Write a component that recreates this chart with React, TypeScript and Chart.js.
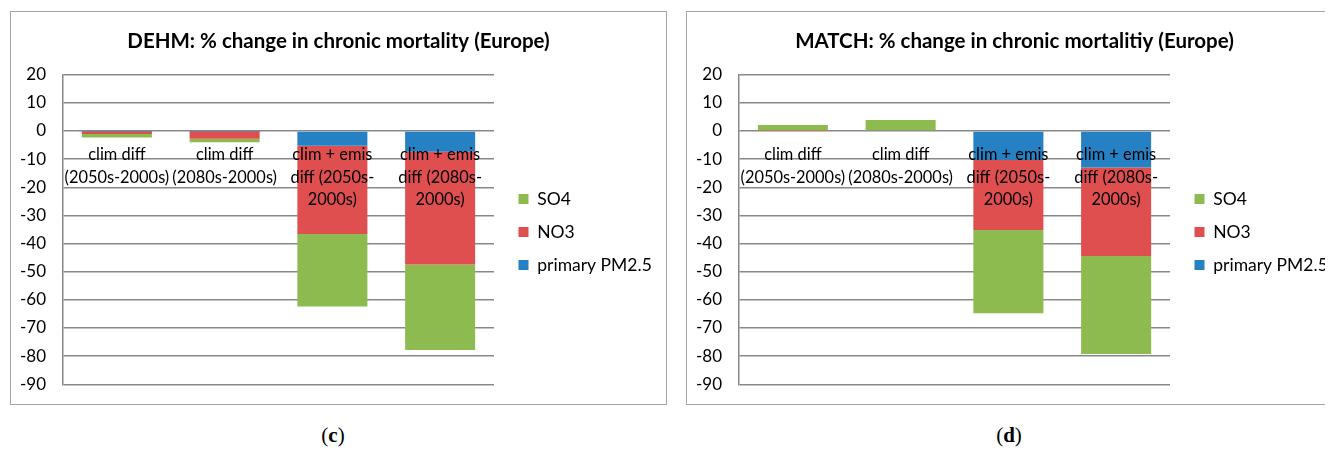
import React, { useEffect, useRef } from "react";
import { Chart, registerables } from "chart.js";

Chart.register(...registerables);

const categories: string[][] = [
  ["clim diff", "(2050s-2000s)"],
  ["clim diff", "(2080s-2000s)"],
  ["clim + emis", "diff (2050s-", "2000s)"],
  ["clim + emis", "diff (2080s-", "2000s)"],
];

const seriesNames = ["primary PM2.5", "NO3", "SO4"];

const yMin = -90;
const yMax = 20;
const yStep = 10;

const dehmTitle = "DEHM: % change in chronic mortality (Europe)";
const dehmPrimary = [-0.1, -0.1, -5.2, -7.4];
const dehmNO3 = [-1.0, -2.7, -31.4, -40.0];
const dehmSO4 = [-1.2, -1.2, -25.8, -30.4];

const matchTitle = "MATCH: % change in chronic mortalitiy (Europe)";
const matchPrimary = [0, 0, -10.3, -13.0];
const matchNO3 = [0.1, 0.3, -24.9, -31.4];
const matchSO4 = [2.0, 3.6, -29.6, -34.8];

const BLUE = "#2680c4";
const RED = "#df4f4f";
const GREEN = "#8dbb50";
const FONT = "Lato";

const CANVAS_W = 655;
const CANVAS_H = 392;
const LEGEND_FONT = 17.5;
const LEGEND_PAD = 15.5;
const LEGEND_BOX = 10;
const PLOT_RIGHT = 483;
const LEGEND_LEFT = 492;

type PanelProps = {
  title: string;
  primary: number[];
  no3: number[];
  so4: number[];
};

function Panel({ title, primary, no3, so4 }: PanelProps) {
  const ref = useRef<HTMLCanvasElement>(null);
  useEffect(() => {
    const canvas = ref.current as HTMLCanvasElement;
    const mctx = document.createElement("canvas").getContext("2d") as CanvasRenderingContext2D;
    mctx.font = `normal ${LEGEND_FONT}px ${FONT}`;
    const maxText = Math.max(...seriesNames.map((n) => mctx.measureText(n).width));
    const legendW = LEGEND_PAD + LEGEND_BOX + LEGEND_FONT / 2 + maxText + 10;
    const outerW = Math.max(0, CANVAS_W - LEGEND_LEFT - legendW);

    const chart = new Chart(canvas, {
      type: "bar",
      data: {
        labels: categories,
        datasets: [
          { label: seriesNames[0], data: primary, backgroundColor: BLUE, borderWidth: 0 },
          { label: seriesNames[1], data: no3, backgroundColor: RED, borderWidth: 0 },
          { label: seriesNames[2], data: so4, backgroundColor: GREEN, borderWidth: 0 },
        ],
      },
      options: {
        responsive: false,
        animation: false,
        layout: { padding: { top: 0, left: 0, right: 0, bottom: 19.7 } },
        datasets: { bar: { categoryPercentage: 1, barPercentage: 0.65 } },
        plugins: {
          title: {
            display: true,
            text: title,
            color: "#000",
            font: { family: FONT, size: 20.5, weight: "bold", lineHeight: 1.2 },
            padding: { top: 17.4, bottom: 20.7 },
          },
          legend: {
            position: "right",
            reverse: true,
            fullSize: false,
            align: "center",
            maxWidth: 400,
            title: {
              display: true,
              text: "",
              font: { size: 1, lineHeight: 1 },
              padding: { top: 4, bottom: 0 },
            },
            labels: {
              boxWidth: LEGEND_BOX,
              boxHeight: LEGEND_BOX,
              padding: LEGEND_PAD,
              color: "#000",
              font: { family: FONT, size: LEGEND_FONT },
            },
          },
          tooltip: { enabled: false },
        },
        scales: {
          x: {
            stacked: true,
            position: { y: 0 },
            grid: { display: false, drawTicks: false },
            border: { display: false },
            ticks: {
              z: 1,
              padding: 12.7,
              maxRotation: 0,
              minRotation: 0,
              autoSkip: false,
              color: "#000",
              font: { family: FONT, size: 16.4, lineHeight: 1.37 },
            },
            afterFit: (s: any) => {
              s.paddingLeft = 0;
              s.paddingRight = 0;
            },
          },
          y: {
            stacked: true,
            min: yMin,
            max: yMax,
            ticks: {
              stepSize: yStep,
              padding: 17,
              color: "#000",
              font: { family: FONT, size: 17 },
            },
            grid: { color: "#888888", lineWidth: 1.5, drawTicks: false },
            border: { display: true, color: "#888888", width: 1.5 },
            afterFit: (s: any) => {
              s.width = 52;
              s.paddingTop = 0;
              s.paddingBottom = 0;
            },
          },
          gapRight: {
            type: "linear",
            axis: "y",
            position: "right",
            weight: 0,
            display: true,
            grid: { display: false, drawTicks: false },
            border: { display: false },
            ticks: { display: false },
            afterFit: (s: any) => {
              s.width = LEGEND_LEFT - PLOT_RIGHT;
              s.paddingTop = 0;
              s.paddingBottom = 0;
            },
          },
          outerRight: {
            type: "linear",
            axis: "y",
            position: "right",
            weight: 5000,
            display: true,
            grid: { display: false, drawTicks: false },
            border: { display: false },
            ticks: { display: false },
            afterFit: (s: any) => {
              s.width = outerW;
              s.paddingTop = 0;
              s.paddingBottom = 0;
            },
          },
        },
      } as any,
    });
    return () => chart.destroy();
  }, [title, primary, no3, so4]);
  return <canvas ref={ref} width={CANVAS_W} height={CANVAS_H} style={{ display: "block" }} />;
}

const panelStyle = (left: number): React.CSSProperties => ({
  position: "absolute",
  left,
  top: 3,
  width: 657,
  height: 394,
  boxSizing: "border-box",
  border: "1px solid #a5a5a5",
  background: "#fff",
});

const captionStyle = (center: number): React.CSSProperties => ({
  position: "absolute",
  left: center - 40,
  width: 80,
  top: 415,
  height: 24,
  lineHeight: "24px",
  textAlign: "center",
  fontFamily: "'Liberation Serif', 'Times New Roman', serif",
  fontSize: 21,
  color: "#000",
});

export default function App() {
  return (
    <div style={{ position: "relative", width: 1317, height: 442 }}>
      <style>{"html, body { overflow: hidden; }"}</style>
      <div style={panelStyle(2)}>
        <Panel title={dehmTitle} primary={dehmPrimary} no3={dehmNO3} so4={dehmSO4} />
      </div>
      <div style={panelStyle(678)}>
        <Panel title={matchTitle} primary={matchPrimary} no3={matchNO3} so4={matchSO4} />
      </div>
      <div style={captionStyle(325)}>
        (<b>c</b>)
      </div>
      <div style={captionStyle(1001)}>
        (<b>d</b>)
      </div>
    </div>
  );
}
